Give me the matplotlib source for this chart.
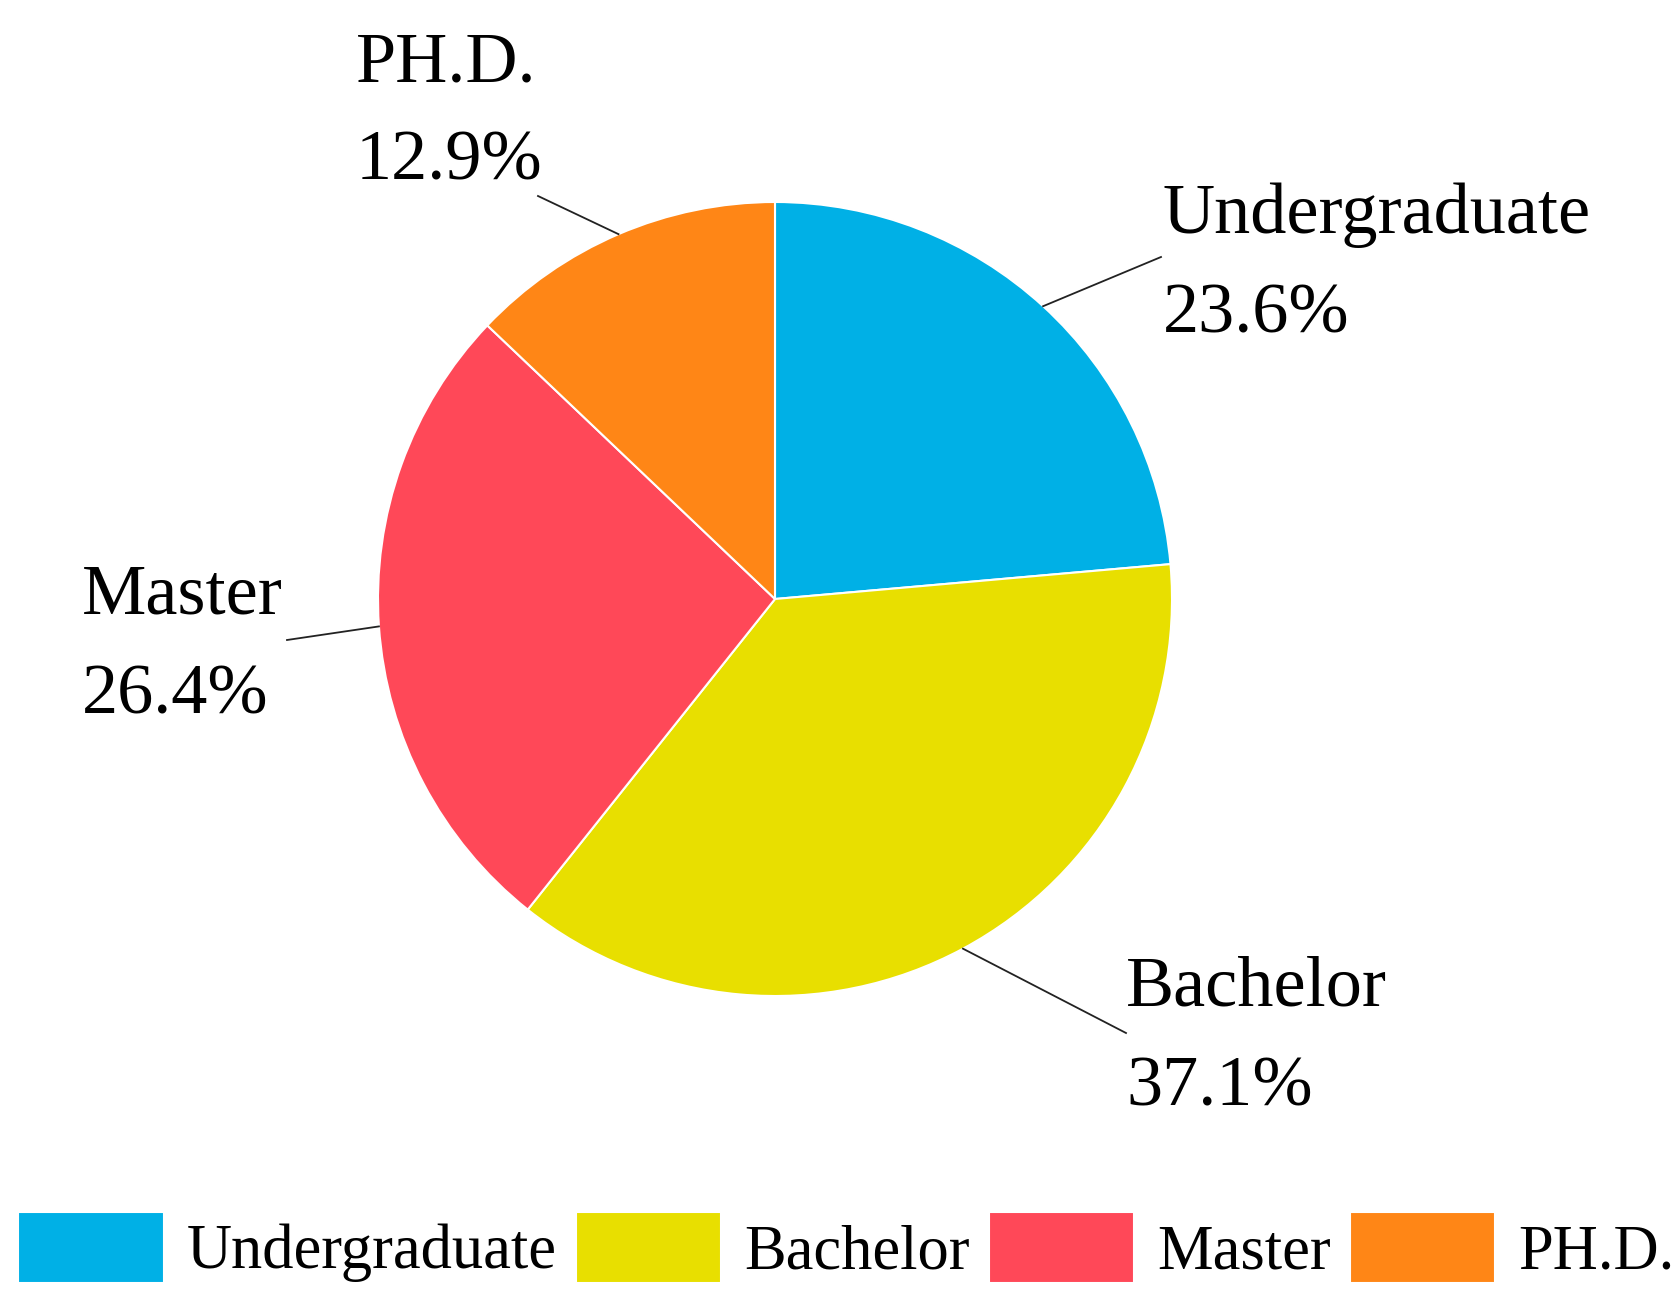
import numpy as np
import matplotlib
matplotlib.use('Agg')
import matplotlib.pyplot as plt

# data
categories = ['Undergraduate', 'Bachelor', 'Master', 'PH.D.']
shares = [23.6, 37.1, 26.4, 12.9]
colors = ['#00B0E6', '#E8DF00', '#FF4858', '#FF8616']

# label placement in pixels (top-left origin): text left x, text mid y; leader end point
label_xy = [(1163, 265), (1126, 1038), (82, 646), (356, 113)]
leader_end = [(1161, 257), (1126, 1033), (287, 640), (538, 196)]

W, H = 1678, 1295
plt.rcParams['font.family'] = ['Liberation Serif', 'DejaVu Serif']

fig = plt.figure(figsize=(W / 100, H / 100), dpi=100)
ax = fig.add_axes([0, 0, 1, 1])

cx, cy, r = 775, H - 599, 397
wedges, _ = ax.pie(shares, colors=colors, startangle=90, counterclock=False,
                   center=(cx, cy), radius=r, frame=True,
                   wedgeprops=dict(edgecolor='white', linewidth=1.5))
ax.set_xlim(0, W)
ax.set_ylim(0, H)
ax.set_aspect('equal')
ax.axis('off')

for w, cat, val, (tx, ty), (lx, ly) in zip(wedges, categories, shares, label_xy, leader_end):
    mid = np.deg2rad((w.theta1 + w.theta2) / 2)
    px, py = cx + r * np.cos(mid), cy + r * np.sin(mid)
    ax.plot([px, lx], [py, H - ly], color='#222222', lw=1.3)
    ax.text(tx, H - ty, f'{cat}\n{val:.1f}%', ha='left', va='center', fontsize=52,
            multialignment='left', linespacing=1.68)

fig.legend(wedges, categories, loc='lower left', bbox_to_anchor=(18 / W, 12 / H),
           ncol=4, frameon=False, fontsize=45, handlelength=2.33, handleheight=1.37,
           handletextpad=0.37, columnspacing=0.3, borderpad=0, borderaxespad=0)

fig.savefig('out.png', dpi=100)
